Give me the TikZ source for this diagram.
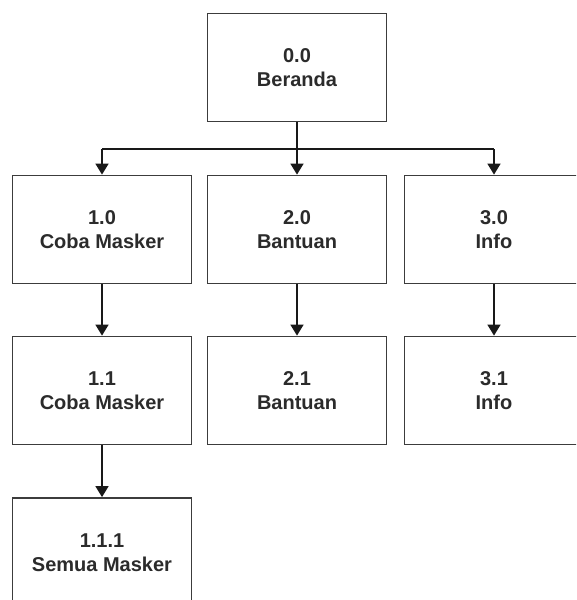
\documentclass[tikz,border=0pt]{standalone}
\usepackage{fontspec}
\setmainfont{Liberation Sans}
\usetikzlibrary{arrows.meta}
\definecolor{txt}{HTML}{2B2B2B}
\definecolor{edge}{HTML}{3C3C3C}
\tikzset{
  box/.style={draw=edge, line width=1.8pt, fill=white, minimum width=179pt, minimum height=108pt,
    inner sep=0pt, align=center, text=txt, font=\fontsize{20}{24}\selectfont\bfseries},
  conn/.style={draw=black!90, line width=1.6pt},
  arr/.style={conn, -{Triangle[width=13pt,length=11pt]}}
}
\begin{document}
\begin{tikzpicture}[x=1pt,y=-1pt]
\fill[white] (0,0) rectangle (576,600);
\clip (0,0) rectangle (576,600);
\node[box] (b00) at (297,67.5) {0.0\\Beranda};
\node[box] (b10) at (102,229.5) {1.0\\Coba Masker};
\node[box] (b20) at (297,229.5) {2.0\\Bantuan};
\node[box] (b30) at (494,229.5) {3.0\\Info};
\node[box] (b11) at (102,390.5) {1.1\\Coba Masker};
\node[box] (b21) at (297,390.5) {2.1\\Bantuan};
\node[box] (b31) at (494,390.5) {3.1\\Info};
\node[box, minimum height=110pt] (b111) at (102,553) {1.1.1\\Semua Masker};
\coordinate (hl) at (102,149);
\coordinate (hr) at (494,149);
\draw[arr] (b00.south) -- (b20.north);
\draw[conn] (hl) -- (hr);
\draw[arr] (hl) -- (b10.north);
\draw[arr] (hr) -- (b30.north);
\draw[arr] (b10.south) -- (b11.north);
\draw[arr] (b20.south) -- (b21.north);
\draw[arr] (b30.south) -- (b31.north);
\draw[arr] (b11.south) -- (b111.north);
\end{tikzpicture}
\end{document}
